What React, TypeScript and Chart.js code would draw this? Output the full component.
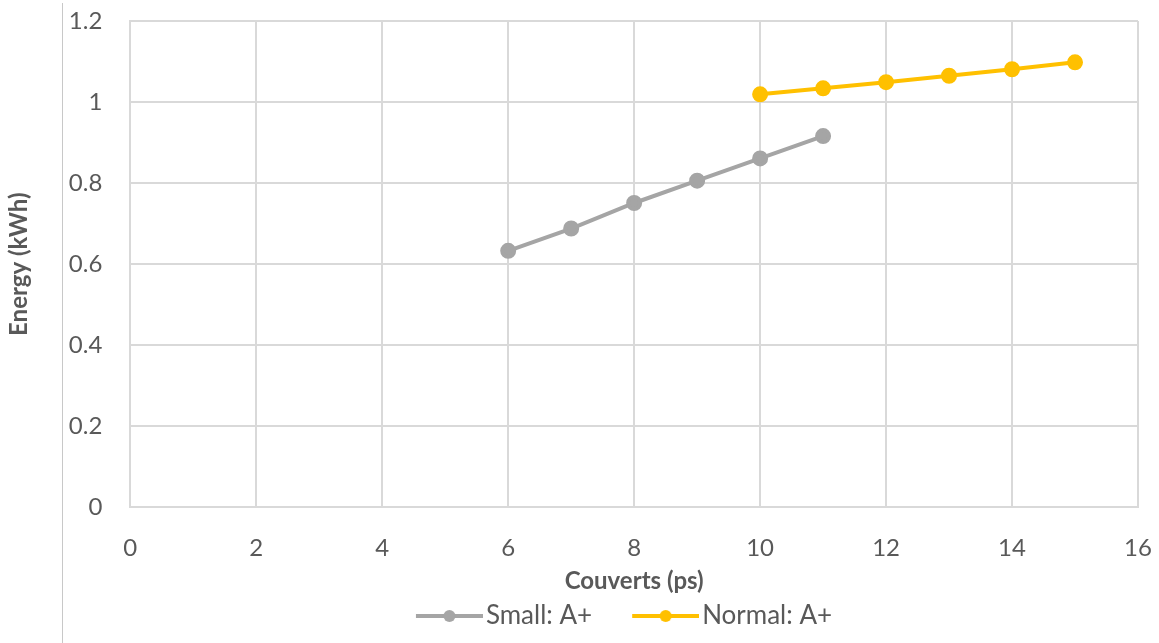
import React, { useEffect, useRef } from "react";
import { Chart, registerables } from "chart.js";

Chart.register(...registerables);

const smallX = [6, 7, 8, 9, 10, 11];
const smallY = [0.633, 0.688, 0.751, 0.806, 0.861, 0.916];
const normalX = [10, 11, 12, 13, 14, 15];
const normalY = [1.019, 1.034, 1.049, 1.065, 1.081, 1.098];
const seriesNames = ["Small: A+", "Normal: A+"];
const xTitle = "Couverts (ps)";
const yTitle = "Energy (kWh)";

const GRAY = "#A5A5A5";
const ORANGE = "#FFC000";
const TEXT = "#595959";
const GRID = "#D9D9D9";
const FONT = "Lato, 'Liberation Sans', sans-serif";
const TICK_SIZE = 24;
const TITLE_SIZE = 24;
const LEGEND_SIZE = 26;
const LEGEND_SHIFT = 33;

// legend icon: short line with a dot, placed on the right part of a wider transparent canvas
const ICON_BOX = 96;
const ICON_CANVAS = 116;
const ICON_LINE = 67;
function legendIcon(color: string): HTMLCanvasElement {
  const c = document.createElement("canvas");
  c.width = ICON_CANVAS;
  c.height = 14;
  const ctx = c.getContext("2d")!;
  const right = ICON_BOX / 2 + ICON_CANVAS / 2 + LEGEND_SIZE / 2 - 3;
  const left = right - ICON_LINE;
  ctx.strokeStyle = color;
  ctx.lineWidth = 4;
  ctx.beginPath();
  ctx.moveTo(left, 7);
  ctx.lineTo(right, 7);
  ctx.stroke();
  ctx.fillStyle = color;
  ctx.beginPath();
  ctx.arc((left + right) / 2, 7, 6, 0, Math.PI * 2);
  ctx.fill();
  return c;
}

const legendShift = {
  id: "legendShift",
  afterLayout(chart: any) {
    if (chart.legend) {
      chart.legend.left += LEGEND_SHIFT;
      chart.legend.right += LEGEND_SHIFT;
    }
  },
};

export default function App() {
  const ref = useRef<HTMLCanvasElement | null>(null);
  useEffect(() => {
    if (!ref.current) return;
    const icons = [legendIcon(GRAY), legendIcon(ORANGE)];
    const chart = new Chart(ref.current, {
      type: "scatter",
      data: {
        datasets: [
          {
            label: seriesNames[0],
            data: smallX.map((x, i) => ({ x, y: smallY[i] })),
            showLine: true,
            borderColor: GRAY,
            backgroundColor: GRAY,
            borderWidth: 4,
            pointRadius: 6,
            pointHoverRadius: 6,
          },
          {
            label: seriesNames[1],
            data: normalX.map((x, i) => ({ x, y: normalY[i] })),
            showLine: true,
            borderColor: ORANGE,
            backgroundColor: ORANGE,
            borderWidth: 4,
            pointRadius: 6,
            pointHoverRadius: 6,
          },
        ],
      },
      plugins: [legendShift],
      options: {
        animation: false,
        responsive: false,
        maintainAspectRatio: false,
        layout: { padding: { left: 5, right: 21, top: 21, bottom: 4 } },
        plugins: {
          tooltip: { enabled: false },
          legend: {
            position: "bottom",
            labels: {
              usePointStyle: true,
              pointStyleWidth: ICON_BOX,
              color: TEXT,
              font: { family: FONT, size: LEGEND_SIZE },
              padding: 1,
              generateLabels: (ch: any) =>
                ch.data.datasets.map((d: any, i: number) => ({
                  text: d.label,
                  fillStyle: d.borderColor,
                  strokeStyle: d.borderColor,
                  pointStyle: icons[i],
                  fontColor: TEXT,
                  datasetIndex: i,
                  hidden: false,
                  lineWidth: 0,
                })),
            },
          },
        },
        scales: {
          x: {
            type: "linear",
            min: 0,
            max: 16,
            afterFit: (s: any) => {
              s.paddingLeft = 0;
              s.paddingRight = 0;
            },
            ticks: {
              stepSize: 2,
              color: TEXT,
              font: { family: FONT, size: TICK_SIZE },
              padding: 26,
              maxRotation: 0,
            },
            grid: { color: GRID, lineWidth: 2, drawTicks: false },
            border: { color: GRID, width: 2 },
            title: {
              display: true,
              text: xTitle,
              color: TEXT,
              font: { family: FONT, size: TITLE_SIZE, weight: "bold" },
              padding: { top: -21, bottom: 6 },
            },
          },
          y: {
            type: "linear",
            min: 0,
            max: 1.2,
            afterFit: (s: any) => {
              s.paddingTop = 0;
              s.paddingBottom = 0;
            },
            ticks: {
              stepSize: 0.2,
              color: TEXT,
              font: { family: FONT, size: TICK_SIZE },
              padding: 28,
              callback: (v: any) => String(Math.round(Number(v) * 10) / 10),
            },
            grid: { color: GRID, lineWidth: 2, drawTicks: false },
            border: { color: GRID, width: 2 },
            title: {
              display: true,
              text: yTitle,
              color: TEXT,
              font: { family: FONT, size: TITLE_SIZE, weight: "bold" },
              padding: { top: 0, bottom: 7 },
            },
          },
        },
      },
    });
    return () => chart.destroy();
  }, []);
  return (
    <div style={{ position: "absolute", left: 0, top: 0, width: 1159, height: 643, background: "#fff" }}>
      <div style={{ position: "absolute", left: 62, top: 3, width: 1, height: 640, background: "#C8C8C8" }} />
      <canvas ref={ref} width={1159} height={643} style={{ position: "absolute", left: 0, top: 0 }} />
    </div>
  );
}
